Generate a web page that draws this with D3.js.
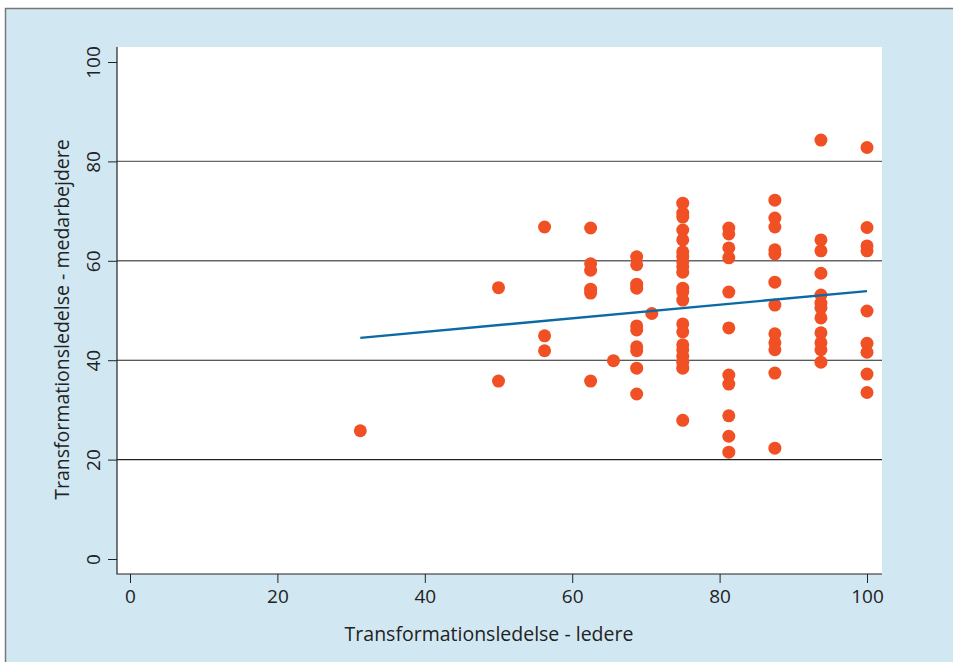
<!DOCTYPE html>
<html>
<head>
<meta charset="utf-8">
<script src="https://cdn.jsdelivr.net/npm/d3@7"></script>
<style>
  html, body { margin: 0; padding: 0; background: #fff; }
  svg { display: block; }
  text { font-family: "Open Sans", "Noto Sans", sans-serif; fill: #222; }
</style>
</head>
<body>
<div id="chart"></div>
<script>
// leader score levels (x) and the employee scores found at each level (y)
const leaderLevels = [31.25, 50, 56.25, 62.5, 65.6, 68.75, 70.8, 75, 81.25, 87.5, 93.75, 100];
const employeeScores = [
  [25.8],
  [54.6, 35.8],
  [66.8, 44.9, 41.9],
  [66.6, 59.4, 58.1, 54.3, 53.5, 35.8],
  [39.9],
  [60.8, 59.2, 55.3, 54.5, 46.9, 46.1, 42.7, 41.9, 38.4, 33.2],
  [49.4],
  [71.6, 69.6, 68.8, 66.2, 64.2, 61.8, 60.8, 59.8, 58.8, 57.7, 54.5, 53.7, 52.1,
   47.3, 45.7, 43.1, 42.1, 40.8, 39.6, 38.4, 27.9],
  [66.6, 65.4, 62.6, 60.6, 53.7, 46.5, 37.0, 35.2, 28.8, 24.7, 21.5],
  [72.2, 68.6, 66.8, 62.2, 61.4, 55.7, 51.1, 45.3, 43.5, 42.1, 37.4, 22.3],
  [84.3, 64.2, 62.0, 57.5, 53.1, 51.5, 50.5, 48.5, 45.5, 43.5, 42.1, 39.6],
  [82.8, 66.7, 63.0, 62.0, 49.9, 43.4, 41.6, 37.2, 33.5]
];
// fitted line end points
const fitX = [31.25, 100];
const fitY = [44.5, 53.9];

const tickValues = [0, 20, 40, 60, 80, 100];
const gridValues = [20, 40, 60, 80];

const xTitle = "Transformationsledelse - ledere";
const yTitle = "Transformationsledelse - medarbejdere";

const width = 953, height = 662;
const plot = { left: 117, right: 882, top: 47, bottom: 574 };

const x = d3.scaleLinear().domain([0, 100]).range([130, 867]);
const y = d3.scaleLinear().domain([0, 100]).range([559, 62]);

const points = leaderLevels.flatMap((lx, i) => employeeScores[i].map(v => ({ x: lx, y: v })));

const svg = d3.select("#chart").append("svg")
  .attr("width", width)
  .attr("height", height);

// background + outer frame
svg.append("rect")
  .attr("x", 5).attr("y", 8)
  .attr("width", width).attr("height", height)
  .attr("fill", "#d1e8f3");
svg.append("path")
  .attr("d", `M5.5,${height} V8.5 H${width}`)
  .attr("fill", "none")
  .attr("stroke", "#777")
  .attr("stroke-width", 1.5);

// plot region
svg.append("rect")
  .attr("x", plot.left).attr("y", plot.top)
  .attr("width", plot.right - plot.left)
  .attr("height", plot.bottom - plot.top)
  .attr("fill", "#fff");

// grid lines
svg.append("g")
  .selectAll("line")
  .data(gridValues)
  .join("line")
  .attr("x1", plot.left).attr("x2", plot.right)
  .attr("y1", d => y(d)).attr("y2", d => y(d))
  .attr("stroke", d => d >= 60 ? "#666" : "#222")
  .attr("stroke-width", d => d >= 60 ? 1.4 : 1.1);

// axes
const xAxis = svg.append("g")
  .attr("transform", `translate(0,${plot.bottom})`)
  .call(d3.axisBottom(x).tickValues(tickValues).tickSize(9).tickPadding(7));
xAxis.select(".domain").remove();
xAxis.selectAll("line").attr("stroke", "#222");
xAxis.selectAll("text").attr("font-size", 19).attr("font-family", null).attr("fill", "#222");

const yAxis = svg.append("g")
  .attr("transform", `translate(${plot.left},0)`)
  .call(d3.axisLeft(y).tickValues(tickValues).tickSize(9).tickPadding(0));
yAxis.select(".domain").remove();
yAxis.selectAll("line").attr("stroke", "#222");
yAxis.selectAll("text")
  .attr("font-size", 19).attr("font-family", null).attr("fill", "#222")
  .attr("text-anchor", "middle")
  .attr("dy", 0)
  .attr("x", 0)
  .attr("transform", d => `translate(-17,0) rotate(-90)`);

svg.append("path")
  .attr("d", `M${plot.left},${plot.top} V${plot.bottom} H${plot.right}`)
  .attr("fill", "none")
  .attr("stroke", "#222")
  .attr("stroke-width", 1.2);

// points
svg.append("g")
  .selectAll("circle")
  .data(points)
  .join("circle")
  .attr("cx", d => x(d.x))
  .attr("cy", d => y(d.y))
  .attr("r", 6.5)
  .attr("fill", "#f05023");

// fitted line
svg.append("line")
  .attr("x1", x(fitX[0])).attr("y1", y(fitY[0]))
  .attr("x2", x(fitX[1])).attr("y2", y(fitY[1]))
  .attr("stroke", "#0b6aa6")
  .attr("stroke-width", 2.4);

// titles
svg.append("text")
  .attr("x", 489)
  .attr("y", 641)
  .attr("text-anchor", "middle")
  .attr("font-size", 19.5)
  .text(xTitle);

svg.append("text")
  .attr("transform", `translate(69,${(plot.top + plot.bottom) / 2 + 9}) rotate(-90)`)
  .attr("text-anchor", "middle")
  .attr("font-size", 19.5)
  .text(yTitle);
</script>
</body>
</html>
